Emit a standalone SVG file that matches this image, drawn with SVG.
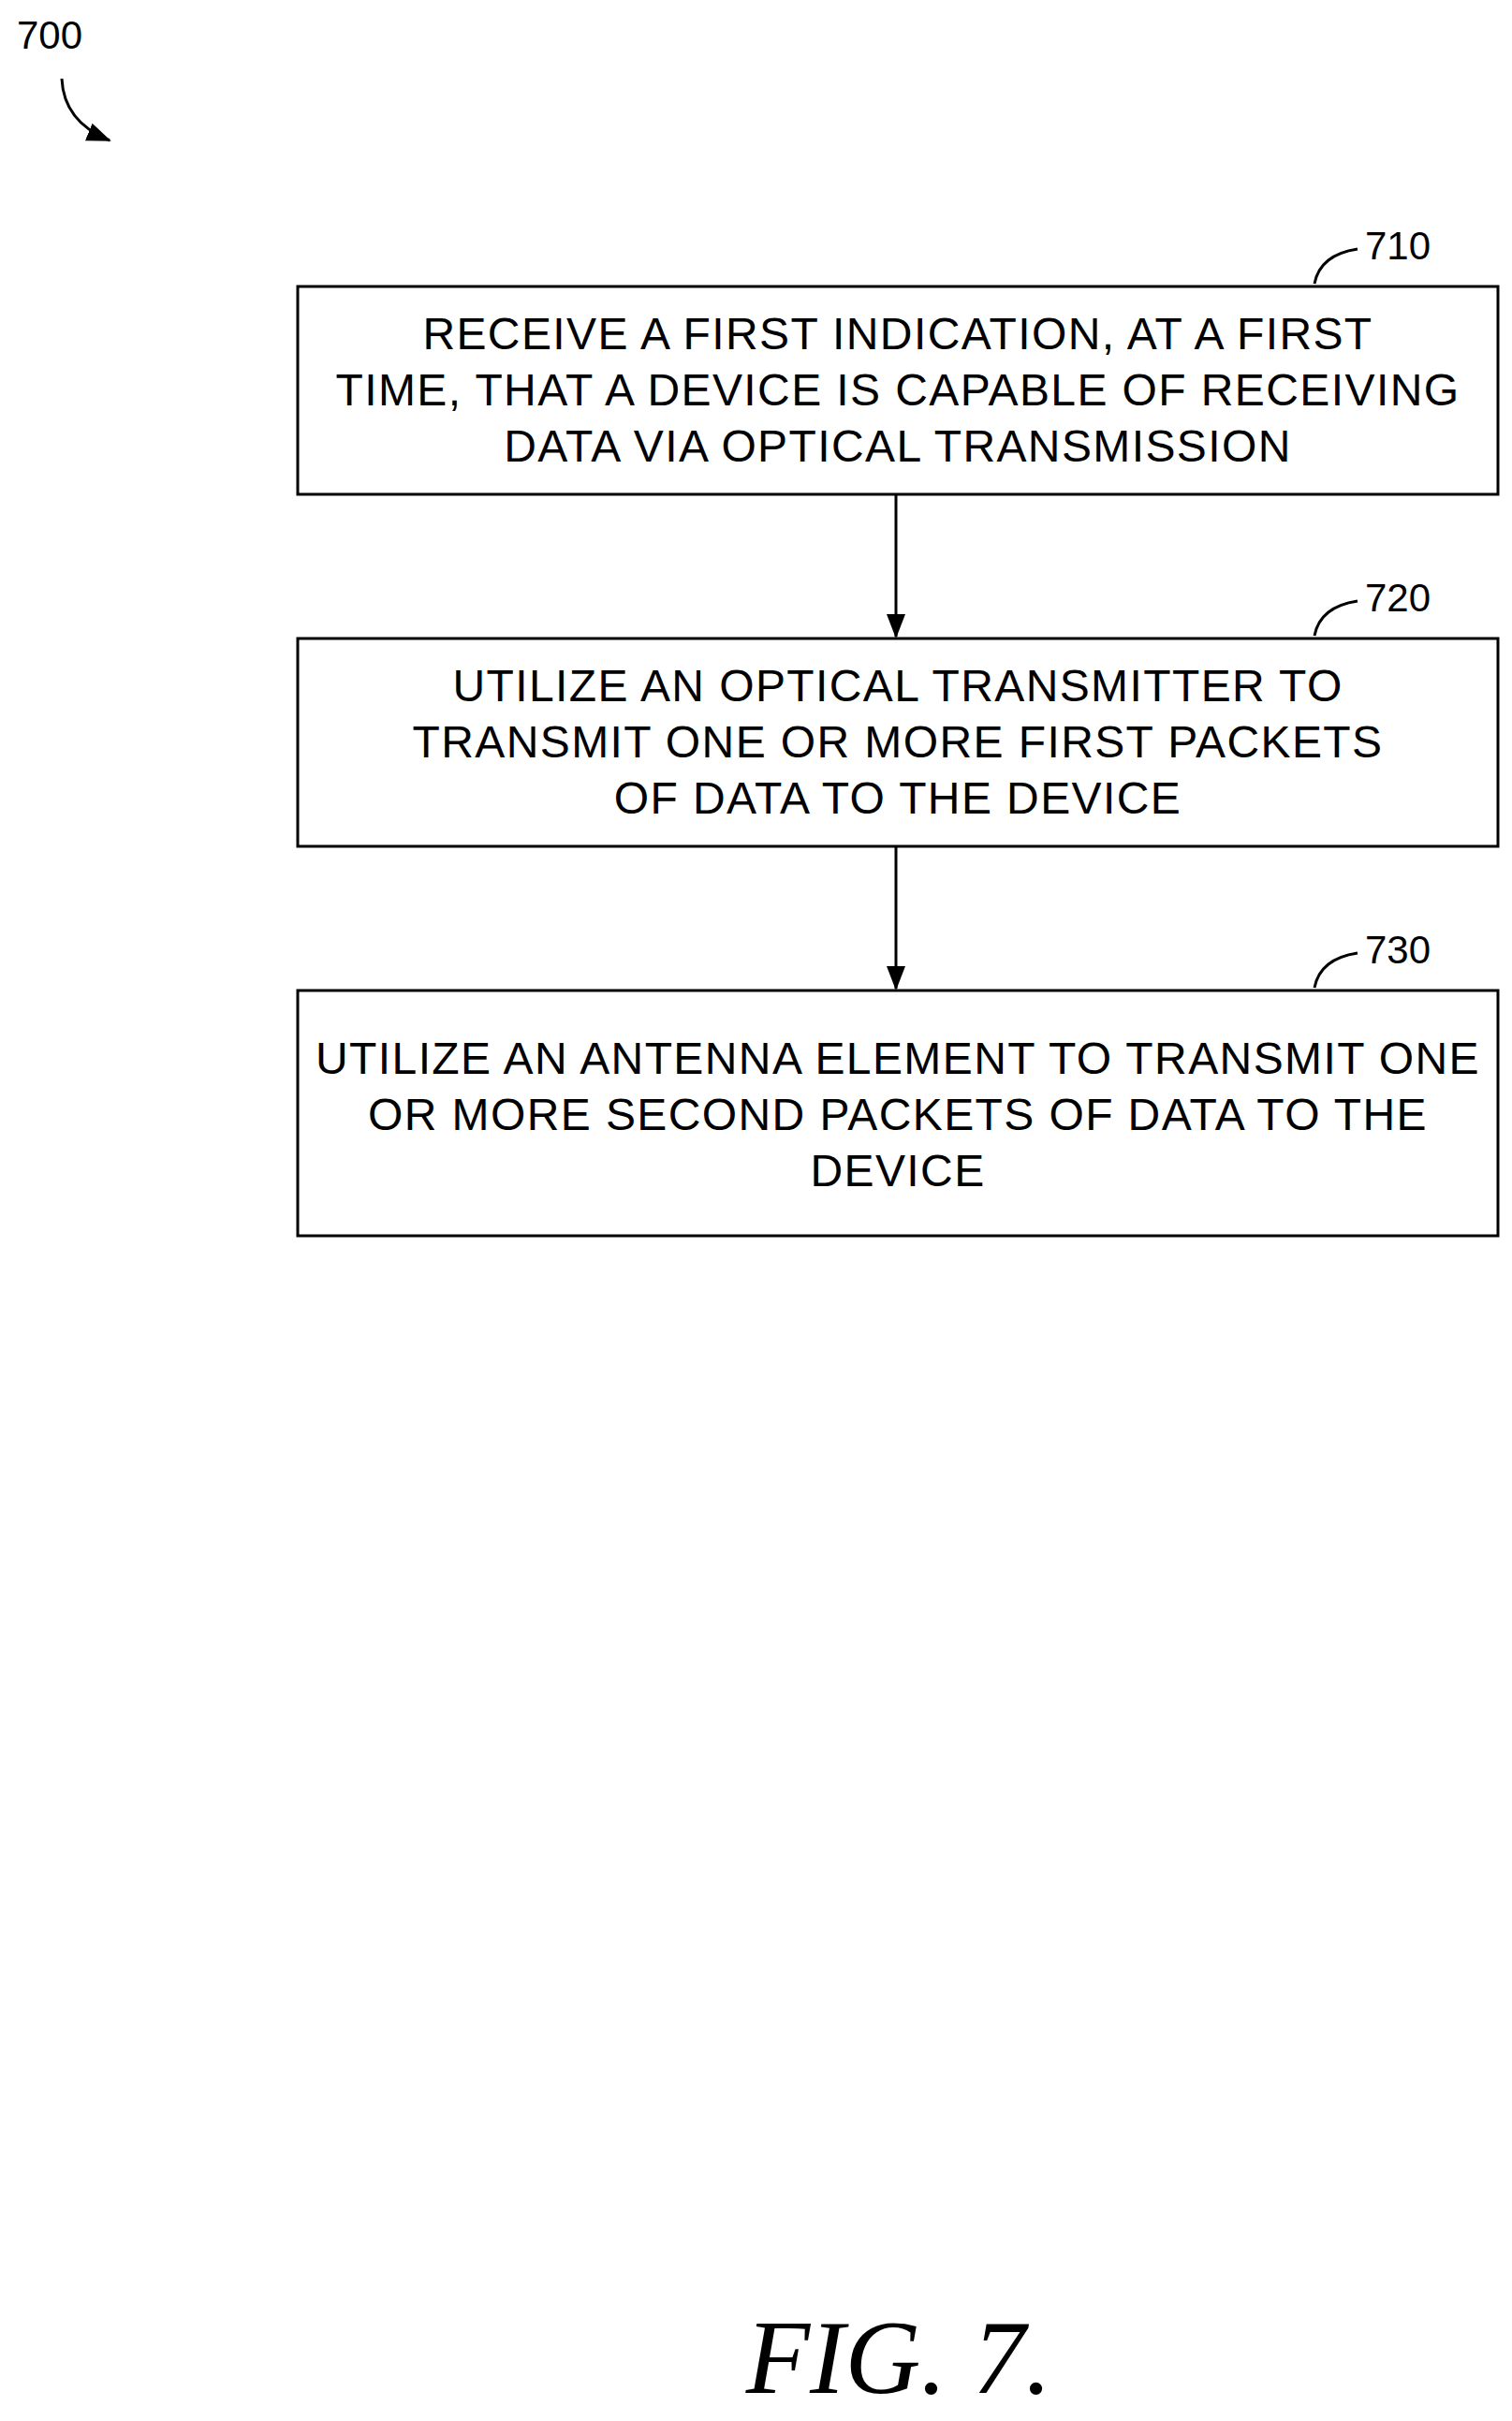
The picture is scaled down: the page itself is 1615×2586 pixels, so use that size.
<svg xmlns="http://www.w3.org/2000/svg" width="1615" height="2586" viewBox="0 0 1615 2586">
<style>
.b{fill:#fff;stroke:#000;stroke-width:3}
.t{font-family:"Liberation Sans",Arial,sans-serif;font-size:48px;letter-spacing:1.4px;text-anchor:middle;fill:#000}
.l{font-family:"Liberation Sans",Arial,sans-serif;font-size:42px;fill:#000}
.c{fill:none;stroke:#000;stroke-width:3}
</style>
<defs>
<marker id="ah" markerWidth="26" markerHeight="26" refX="24" refY="13" orient="auto" markerUnits="userSpaceOnUse"><path d="M0,3L26,13L0,23z"/></marker></defs>
<g id="label700"><text class="l" x="18" y="52">700</text><path class="c" d="M66,84 Q68,130 117,150" marker-end="url(#ah)"/></g>
<g id="n710"><rect class="b" x="318" y="306" width="1282" height="222"/>
<text class="t" x="959" y="373">RECEIVE A FIRST INDICATION, AT A FIRST</text>
<text class="t" x="959" y="433">TIME, THAT A DEVICE IS CAPABLE OF RECEIVING</text>
<text class="t" x="959" y="493">DATA VIA OPTICAL TRANSMISSION</text>
<text class="l" x="1458" y="277">710</text><path class="c" d="M1404,303 Q1410,272 1450,266"/></g>
<g id="n720"><rect class="b" x="318" y="682" width="1282" height="222"/>
<text class="t" x="959" y="749">UTILIZE AN OPTICAL TRANSMITTER TO</text>
<text class="t" x="959" y="809">TRANSMIT ONE OR MORE FIRST PACKETS</text>
<text class="t" x="959" y="869">OF DATA TO THE DEVICE</text>
<text class="l" x="1458" y="653">720</text><path class="c" d="M1404,679 Q1410,648 1450,642"/></g>
<g id="n730"><rect class="b" x="318" y="1058" width="1282" height="262"/>
<text class="t" x="959" y="1147">UTILIZE AN ANTENNA ELEMENT TO TRANSMIT ONE</text>
<text class="t" x="959" y="1207">OR MORE SECOND PACKETS OF DATA TO THE</text>
<text class="t" x="959" y="1267">DEVICE</text>
<text class="l" x="1458" y="1029">730</text><path class="c" d="M1404,1055 Q1410,1024 1450,1018"/></g>
<g id="connectors">
<line class="c" x1="957" y1="528" x2="957" y2="680" marker-end="url(#ah)"/>
<line class="c" x1="957" y1="904" x2="957" y2="1056" marker-end="url(#ah)"/>
</g>
<text x="960" y="2556" style="font-family:'Liberation Serif',serif;font-style:italic;font-size:112px;text-anchor:middle">FIG. 7.</text>
</svg>
